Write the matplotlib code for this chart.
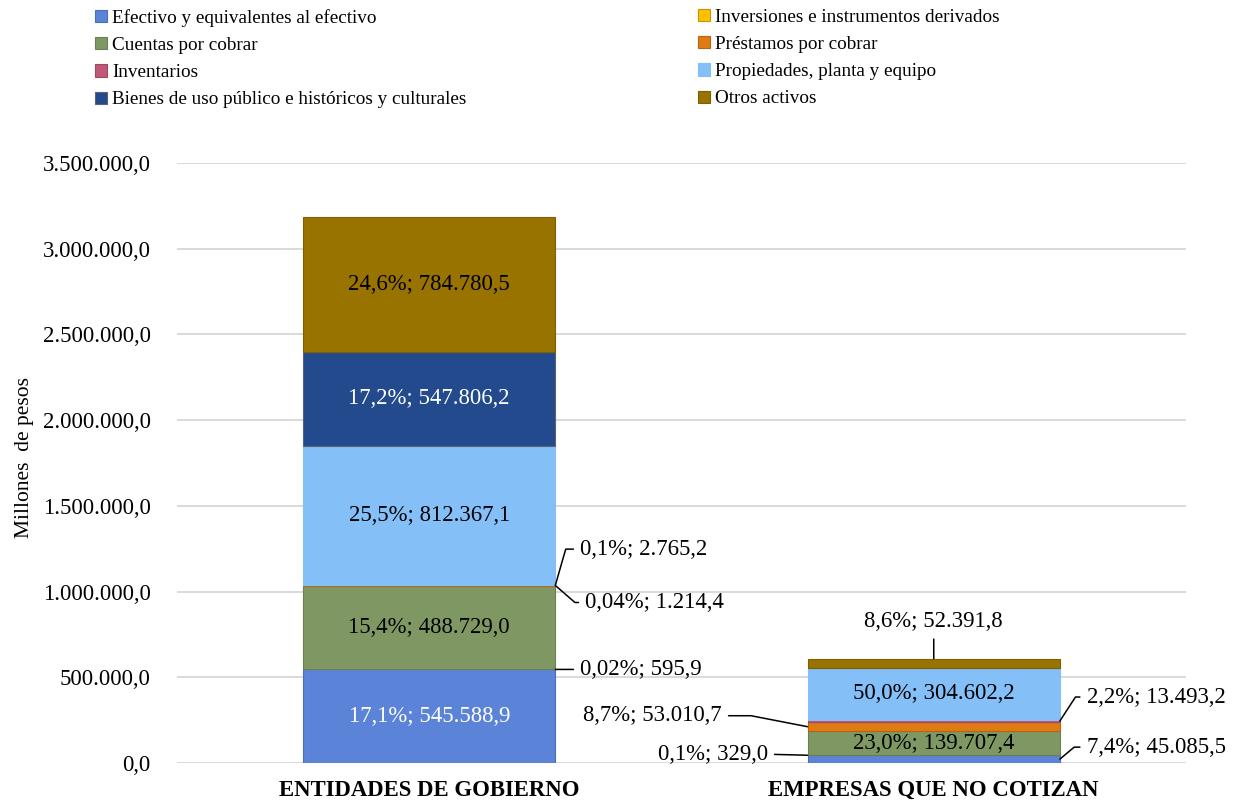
import matplotlib.pyplot as plt
from matplotlib.patches import Patch
import numpy as np

plt.rcParams['font.family'] = ['Liberation Serif', 'DejaVu Serif']

# datos (millones de pesos)
categorias = ["ENTIDADES DE GOBIERNO", "EMPRESAS QUE NO COTIZAN"]
series = ["Efectivo y equivalentes al efectivo",
          "Inversiones e instrumentos derivados",
          "Cuentas por cobrar",
          "Préstamos por cobrar",
          "Inventarios",
          "Propiedades, planta y equipo",
          "Bienes de uso público e históricos y culturales",
          "Otros activos"]
efectivo = [545588.9, 45085.5]
inversiones = [595.9, 329.0]
cuentas = [488729.0, 139707.4]
prestamos = [1214.4, 53010.7]
inventarios = [2765.2, 13493.2]
propiedades = [812367.1, 304602.2]
bienes = [547806.2, 0.0]
otros = [784780.5, 52391.8]

valores = np.array([efectivo, inversiones, cuentas, prestamos,
                    inventarios, propiedades, bienes, otros])

colores = ['#5b83d7', '#ffc000', '#7f9863', '#e07b14',
           '#c0587a', '#85bff8', '#234a8d', '#997300']
bordes = ['#4a6fba', '#c89600', '#6b8052', '#b86410',
          '#9e4864', '#85bff8', '#5a6478', '#7f6000']


def fmt_es(v, dec=1):
    s = f"{v:,.{dec}f}"
    return s.replace(",", "X").replace(".", ",").replace("X", ".")


FS = 16.4

fig = plt.figure(figsize=(12.42, 8.02), dpi=100)
ax = fig.add_axes([177/1242, 39/802, 1009/1242, 600/802])

x = np.arange(len(categorias))
ancho = 0.5
base = np.zeros(len(categorias))
for i in range(len(series)):
    ax.bar(x, valores[i], ancho, bottom=base, color=colores[i],
           edgecolor=bordes[i], linewidth=0.8, zorder=3)
    base = base + valores[i]

totales = valores.sum(axis=0)
pct = valores / totales * 100
inferior = np.cumsum(valores, axis=0) - valores
medio = inferior + valores / 2

# etiquetas dentro de la barra
dentro = {(0, 0): 'white', (2, 0): 'black', (5, 0): 'black', (6, 0): 'white',
          (7, 0): 'black', (2, 1): 'black', (5, 1): 'black'}
# etiquetas fuera: (lado, dx, dy, angulo del conector)
fuera = {(1, 0): ('r', 25, 0, None),
         (3, 0): ('r', 30, -17, -41),
         (4, 0): ('r', 25, 36, 74),
         (0, 1): ('r', 27, 12, 40),
         (1, 1): ('l', -40, 1, None),
         (3, 1): ('l', -86, 11, -11),
         (4, 1): ('r', 27, 24, 57),
         (7, 1): ('t', 0, 37, None)}


def etiqueta(i, j):
    p = pct[i, j]
    dec = 2 if p < 0.05 else 1
    return f"{fmt_es(p, dec)}%; {fmt_es(valores[i, j])}"


for (i, j), col in dentro.items():
    ax.text(x[j], medio[i, j], etiqueta(i, j), ha='center', va='center',
            color=col, fontsize=FS, zorder=4)

for (i, j), (lado, dx, dy, ang) in fuera.items():
    if lado == 'r':
        xy = (x[j] + ancho / 2, medio[i, j])
        ha, rel = 'left', (0, 0.5)
    elif lado == 'l':
        xy = (x[j] - ancho / 2, medio[i, j])
        ha, rel = 'right', (1, 0.5)
    else:
        xy = (x[j], totales[j])
        ha, rel = 'center', (0.5, 0)
    estilo = "arc3" if ang is None else f"angle,angleA=0,angleB={ang},rad=0"
    ax.annotate(etiqueta(i, j), xy=xy, xytext=(dx, dy),
                textcoords='offset pixels', ha=ha, va='center', fontsize=FS,
                annotation_clip=False, zorder=5,
                arrowprops=dict(arrowstyle='-', color='black', lw=1.1,
                                connectionstyle=estilo, relpos=rel,
                                shrinkA=3, shrinkB=0))

ax.set_xlim(-0.5, 1.5)
ax.set_ylim(0, 3500000)
ax.set_yticks(np.arange(0, 3500001, 500000))
ax.set_yticklabels([fmt_es(t) for t in ax.get_yticks()], fontsize=FS)
ax.set_xticks(x)
ax.set_xticklabels(categorias, fontsize=FS, fontweight='bold')
ax.tick_params(axis='both', length=0)
ax.tick_params(axis='x', pad=12)
ax.tick_params(axis='y', pad=19)
ax.grid(axis='y', color='#d9d9d9', linewidth=1.4, zorder=0)
for s in ax.spines.values():
    s.set_visible(False)
ax.set_ylabel("Millones  de pesos", fontsize=15.5)
ax.yaxis.set_label_coords(-0.142, 0.51)

handles = [Patch(facecolor=colores[i], edgecolor=bordes[i], linewidth=0.8)
           for i in range(len(series))]
orden1 = [0, 2, 4, 6]
orden2 = [1, 3, 5, 7]
for orden, xpos in [(orden1, 95), (orden2, 698)]:
    fig.legend([handles[k] for k in orden], [series[k] for k in orden],
               loc='upper left', bbox_to_anchor=(xpos / 1242, 1 - 9 / 802),
               frameon=False, fontsize=13.8, borderpad=0, borderaxespad=0,
               handlelength=0.6, handleheight=0.6, handletextpad=0.3,
               labelspacing=0.53)

fig.savefig("out.png", dpi=100)
